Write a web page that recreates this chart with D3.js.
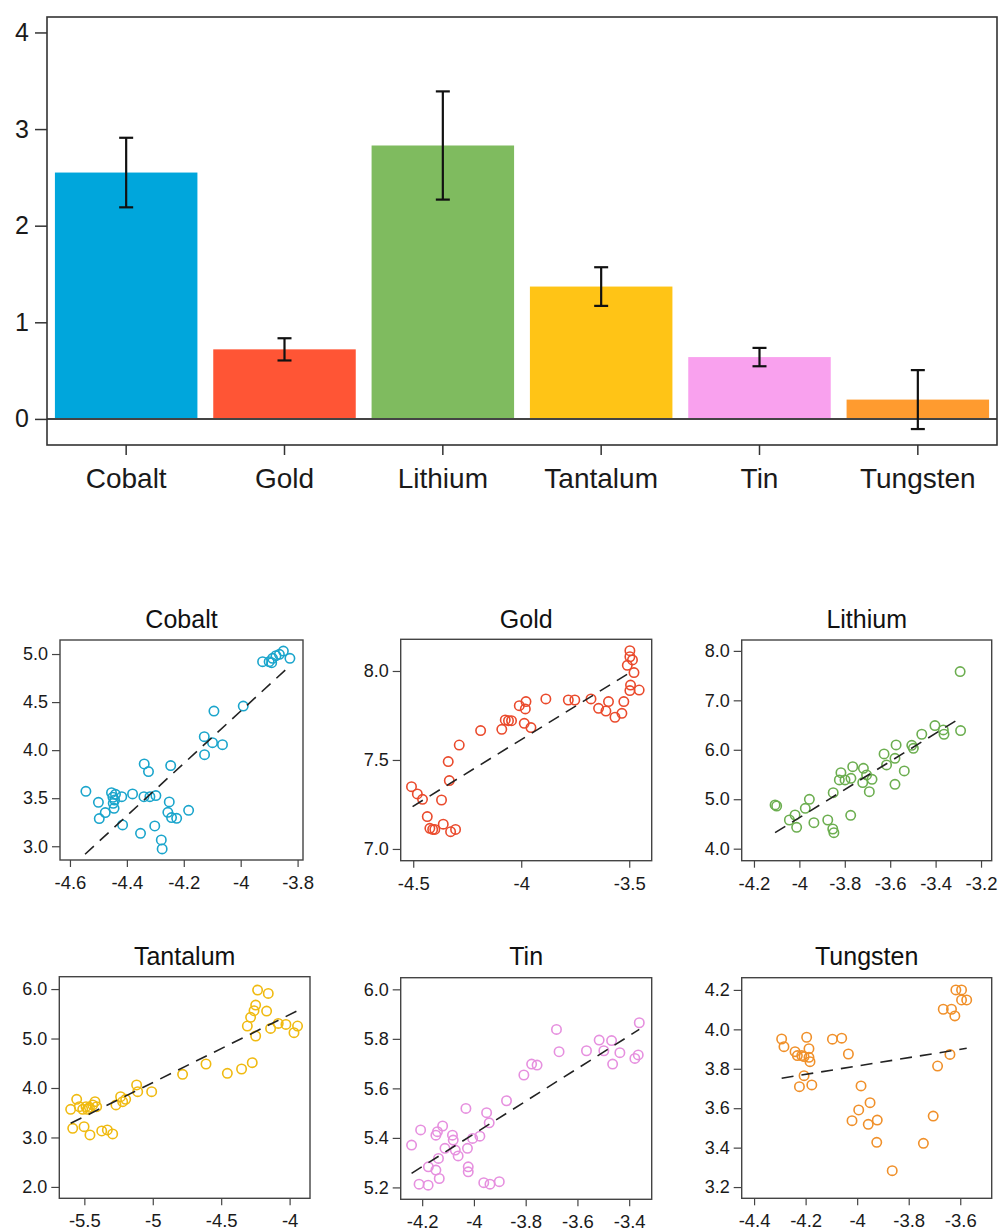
<!DOCTYPE html>
<html>
<head>
<meta charset="utf-8">
<script src="https://cdn.jsdelivr.net/npm/d3@7"></script>
<style>
  html, body { margin: 0; padding: 0; background: #fff; }
  svg { display: block; font-family: "Liberation Sans", Arial, Helvetica, sans-serif; }
</style>
</head>
<body>
<svg id="chart" width="999" height="1232"></svg>
<script>
// ---------------- DATA ----------------
const metals = ["Cobalt", "Gold", "Lithium", "Tantalum", "Tin", "Tungsten"];
const barMeans = [2.55, 0.72, 2.83, 1.37, 0.64, 0.20];
const barErrors = [0.36, 0.115, 0.56, 0.20, 0.095, 0.305];
const barYTicks = [0, 1, 2, 3, 4];
const barColors = ["#00a6dc", "#ff5535", "#7fbb5f", "#ffc416", "#f9a1ee", "#ff9b2f"];
const pointColors = ["#1aa5cc", "#ea4a2c", "#6cae50", "#f0ba10", "#e690df", "#f0902a"];

const cobaltX = [-4.544,-4.500,-4.497,-4.476,-4.454,-4.449,-4.443,-4.448,-4.445,-4.440,-4.418,-4.415,-4.380,-4.352,-4.339,-4.324,-4.340,-4.319,-4.298,-4.302,-4.279,-4.276,-4.246,-4.251,-4.256,-4.243,-4.225,-4.183,-4.128,-4.127,-4.094,-4.099,-4.064,-3.991,-3.923,-3.900,-3.888,-3.876,-3.864,-3.850,-3.827,-3.891];
const cobaltY = [3.572,3.457,3.288,3.350,3.558,3.510,3.480,3.447,3.395,3.540,3.516,3.222,3.544,3.135,3.856,3.777,3.516,3.516,3.527,3.211,3.066,2.972,3.839,3.461,3.353,3.298,3.291,3.374,4.140,3.953,4.407,4.078,4.057,4.459,4.920,4.920,4.955,4.983,4.997,5.031,4.955,4.910];

const goldX = [-4.508,-4.481,-4.457,-4.435,-4.423,-4.410,-4.400,-4.369,-4.361,-4.333,-4.338,-4.327,-4.304,-4.287,-4.188,-4.090,-4.074,-4.059,-4.045,-4.009,-3.978,-3.981,-3.986,-3.955,-3.886,-3.782,-3.752,-3.677,-3.642,-3.608,-3.596,-3.566,-3.534,-3.525,-3.509,-3.497,-3.497,-3.485,-3.478,-3.494,-3.497,-3.454];
const goldY = [7.350,7.309,7.279,7.182,7.116,7.110,7.110,7.275,7.139,7.384,7.491,7.097,7.110,7.584,7.665,7.672,7.725,7.721,7.721,7.805,7.828,7.787,7.706,7.682,7.843,7.837,7.837,7.843,7.790,7.775,7.828,7.740,7.762,7.828,8.032,8.114,8.080,8.062,7.991,7.921,7.890,7.893];

const lithiumX = [-4.107,-4.100,-4.044,-4.019,-4.012,-3.974,-3.956,-3.936,-3.875,-3.851,-3.853,-3.848,-3.817,-3.824,-3.799,-3.773,-3.765,-3.774,-3.718,-3.721,-3.704,-3.692,-3.680,-3.627,-3.616,-3.574,-3.579,-3.579,-3.538,-3.505,-3.498,-3.461,-3.403,-3.366,-3.363,-3.292,-3.290];
const lithiumY = [4.884,4.863,4.580,4.681,4.432,4.816,4.998,4.526,4.580,5.133,4.398,4.324,5.538,5.390,5.390,5.423,5.659,4.675,5.626,5.336,5.491,5.153,5.403,5.916,5.693,6.098,5.828,5.302,5.572,6.091,6.030,6.314,6.489,6.401,6.314,7.582,6.388];

const tantalumX = [-5.600,-5.585,-5.556,-5.537,-5.512,-5.502,-5.488,-5.478,-5.463,-5.459,-5.439,-5.422,-5.410,-5.373,-5.332,-5.293,-5.269,-5.235,-5.220,-5.198,-5.118,-5.110,-5.008,-4.782,-4.611,-4.455,-4.351,-4.273,-4.309,-4.285,-4.260,-4.248,-4.248,-4.234,-4.168,-4.156,-4.139,-4.083,-4.027,-3.968,-3.942];
const tantalumY = [3.569,3.185,3.771,3.623,3.569,3.219,3.623,3.569,3.609,3.051,3.657,3.724,3.623,3.131,3.152,3.071,3.657,3.825,3.724,3.771,4.061,3.926,3.926,4.276,4.485,4.296,4.384,4.512,5.253,5.428,5.562,5.677,5.051,5.980,5.556,5.912,5.205,5.306,5.286,5.118,5.253];

const tinX = [-4.241,-4.212,-4.206,-4.177,-4.176,-4.147,-4.147,-4.141,-4.137,-4.134,-4.121,-4.112,-4.083,-4.080,-4.072,-4.061,-4.031,-4.025,-4.022,-4.022,-4.005,-3.977,-3.962,-3.951,-3.941,-3.938,-3.902,-3.874,-3.807,-3.777,-3.756,-3.681,-3.671,-3.565,-3.516,-3.498,-3.468,-3.464,-3.436,-3.378,-3.365,-3.361];
const tinY = [5.371,5.213,5.432,5.209,5.283,5.270,5.411,5.425,5.317,5.236,5.448,5.358,5.411,5.391,5.351,5.327,5.519,5.358,5.283,5.263,5.398,5.407,5.219,5.502,5.461,5.213,5.223,5.550,5.654,5.698,5.694,5.838,5.748,5.752,5.795,5.752,5.793,5.698,5.744,5.721,5.735,5.865];

const tungstenX = [-4.293,-4.284,-4.241,-4.232,-4.224,-4.215,-4.206,-4.206,-4.196,-4.187,-4.187,-4.183,-4.176,-4.096,-4.060,-4.034,-4.020,-3.994,-3.985,-3.957,-3.950,-3.922,-3.924,-3.864,-3.743,-3.705,-3.688,-3.666,-3.640,-3.634,-3.621,-3.617,-3.595,-3.595,-3.575];
const tungstenY = [3.951,3.912,3.887,3.867,3.709,3.867,3.862,3.765,3.960,3.902,3.858,3.836,3.718,3.950,3.955,3.875,3.537,3.591,3.713,3.518,3.628,3.540,3.427,3.283,3.422,3.560,3.814,4.102,3.873,4.102,4.068,4.200,4.200,4.149,4.149];

// fitted (dashed) lines: [x start, x end] and [y start, y end]
const fitX = [[-4.547,-3.833],[-4.503,-3.497],[-4.107,-3.288],[-5.600,-3.942],[-4.241,-3.361],[-4.293,-3.575]];
const fitY = [[2.917,4.861],[7.238,7.991],[4.324,6.651],[3.286,5.562],[5.257,5.838],[3.752,3.904]];

const xTickVals = [[-4.6,-4.4,-4.2,-4,-3.8],[-4.5,-4,-3.5],[-4.2,-4,-3.8,-3.6,-3.4,-3.2],[-5.5,-5,-4.5,-4],[-4.2,-4,-3.8,-3.6,-3.4],[-4.4,-4.2,-4,-3.8,-3.6]];
const yTickVals = [[3.0,3.5,4.0,4.5,5.0],[7.0,7.5,8.0],[4.0,5.0,6.0,7.0,8.0],[2.0,3.0,4.0,5.0,6.0],[5.2,5.4,5.6,5.8,6.0],[3.2,3.4,3.6,3.8,4.0,4.2]];
const xDomains = [[-4.635,-3.781],[-4.558,-3.396],[-4.254,-3.153],[-5.683,-3.851],[-4.283,-3.313],[-4.448,-3.478]];
const yDomains = [[2.857,5.146],[6.934,8.178],[3.757,8.22],[1.77,6.25],[5.152,6.047],[3.143,4.262]];

const scatterX = [cobaltX, goldX, lithiumX, tantalumX, tinX, tungstenX];
const scatterY = [cobaltY, goldY, lithiumY, tantalumY, tinY, tungstenY];

// ---------------- LAYOUT ----------------
const svg = d3.select("#chart");
const ink = "#1a1a1a";

// ---- Bar chart ----
const bar = { left: 47, right: 997, top: 17, bottom: 445 };
const xb = d3.scaleBand().domain(metals).range([bar.left, bar.right]).paddingInner(0.1).paddingOuter(0.05);
const yb = d3.scaleLinear().domain([-0.27, 4.16]).range([bar.bottom, bar.top]);

const gBar = svg.append("g");
gBar.selectAll("rect.bar").data(metals).enter().append("rect")
  .attr("class", "bar")
  .attr("x", d => xb(d))
  .attr("width", xb.bandwidth())
  .attr("y", (d, i) => yb(Math.max(0, barMeans[i])))
  .attr("height", (d, i) => Math.abs(yb(0) - yb(barMeans[i])))
  .attr("fill", (d, i) => barColors[i]);

gBar.append("line")
  .attr("x1", bar.left).attr("x2", bar.right)
  .attr("y1", yb(0)).attr("y2", yb(0))
  .attr("stroke", "#444").attr("stroke-width", 2);

// error bars
const eg = gBar.selectAll("g.err").data(metals).enter().append("g").attr("class", "err");
eg.append("line")
  .attr("x1", d => xb(d) + xb.bandwidth() / 2).attr("x2", d => xb(d) + xb.bandwidth() / 2)
  .attr("y1", (d, i) => yb(barMeans[i] + barErrors[i])).attr("y2", (d, i) => yb(barMeans[i] - barErrors[i]))
  .attr("stroke", "#111").attr("stroke-width", 2.2);
[1, -1].forEach(s => {
  eg.append("line")
    .attr("x1", d => xb(d) + xb.bandwidth() / 2 - 7).attr("x2", d => xb(d) + xb.bandwidth() / 2 + 7)
    .attr("y1", (d, i) => yb(barMeans[i] + s * barErrors[i])).attr("y2", (d, i) => yb(barMeans[i] + s * barErrors[i]))
    .attr("stroke", "#111").attr("stroke-width", 2.2);
});

// frame
gBar.append("rect")
  .attr("x", bar.left).attr("y", bar.top)
  .attr("width", bar.right - bar.left).attr("height", bar.bottom - bar.top)
  .attr("fill", "none").attr("stroke", "#333").attr("stroke-width", 1.6);

// y axis
const yAxB = d3.axisLeft(yb).tickValues(barYTicks).tickFormat(d3.format("d")).tickSize(12).tickPadding(6);
const gyb = gBar.append("g").attr("transform", `translate(${bar.left},0)`).call(yAxB);
gyb.select(".domain").remove();
gyb.selectAll(".tick line").attr("stroke", "#333").attr("stroke-width", 1.5);
gyb.selectAll(".tick text").attr("font-size", 25).attr("fill", ink).attr("font-family", null);

// x axis
const xAxB = d3.axisBottom(xb).tickSize(10).tickPadding(13);
const gxb = gBar.append("g").attr("transform", `translate(0,${bar.bottom})`).call(xAxB);
gxb.select(".domain").remove();
gxb.selectAll(".tick line").attr("stroke", "#333").attr("stroke-width", 1.5);
gxb.selectAll(".tick text").attr("font-size", 28).attr("fill", ink).attr("font-family", null);

// ---- Scatter panels ----
const panels = [
  { l: 60,    r: 303,   t: 640,   b: 860,    titleY: 628 },
  { l: 400.7, r: 651.7, t: 639.3, b: 860.7,  titleY: 628 },
  { l: 741.7, r: 991.7, t: 640,   b: 860.7,  titleY: 628 },
  { l: 59.3,  r: 310,   t: 976.7, b: 1198.3, titleY: 965 },
  { l: 400.7, r: 651.7, t: 977.7, b: 1199.3, titleY: 965 },
  { l: 741.7, r: 991.7, t: 977.7, b: 1198.3, titleY: 965 }
];

panels.forEach((p, k) => {
  const g = svg.append("g");
  const x = d3.scaleLinear().domain(xDomains[k]).range([p.l, p.r]);
  const y = d3.scaleLinear().domain(yDomains[k]).range([p.b, p.t]);

  g.append("rect").attr("x", p.l).attr("y", p.t)
    .attr("width", p.r - p.l).attr("height", p.b - p.t)
    .attr("fill", "none").attr("stroke", "#444").attr("stroke-width", 1.4);

  const pts = scatterX[k].map((v, i) => [v, scatterY[k][i]]);
  g.selectAll("circle").data(pts).enter().append("circle")
    .attr("cx", d => x(d[0])).attr("cy", d => y(d[1])).attr("r", 4.7)
    .attr("fill", "none").attr("stroke", pointColors[k]).attr("stroke-width", 1.6);

  g.append("line")
    .attr("x1", x(fitX[k][0])).attr("y1", y(fitY[k][0]))
    .attr("x2", x(fitX[k][1])).attr("y2", y(fitY[k][1]))
    .attr("stroke", "#222").attr("stroke-width", 1.6).attr("stroke-dasharray", "12,8");

  const ya = d3.axisLeft(y).tickValues(yTickVals[k]).tickFormat(d3.format(".1f")).tickSize(8).tickPadding(4);
  const gy = g.append("g").attr("transform", `translate(${p.l},0)`).call(ya);
  gy.select(".domain").remove();
  gy.selectAll(".tick line").attr("stroke", "#444").attr("stroke-width", 1.2);
  gy.selectAll(".tick text").attr("font-size", 18).attr("fill", ink).attr("font-family", null);

  const xa = d3.axisBottom(x).tickValues(xTickVals[k]).tickFormat(d => String(d)).tickSize(7).tickPadding(9);
  const gx = g.append("g").attr("transform", `translate(0,${p.b})`).call(xa);
  gx.select(".domain").remove();
  gx.selectAll(".tick line").attr("stroke", "#444").attr("stroke-width", 1.2);
  gx.selectAll(".tick text").attr("font-size", 18.5).attr("fill", ink).attr("font-family", null);

  g.append("text")
    .attr("x", (p.l + p.r) / 2).attr("y", p.titleY)
    .attr("text-anchor", "middle").attr("font-size", 25).attr("fill", "#111")
    .text(metals[k]);
});
</script>
</body>
</html>
